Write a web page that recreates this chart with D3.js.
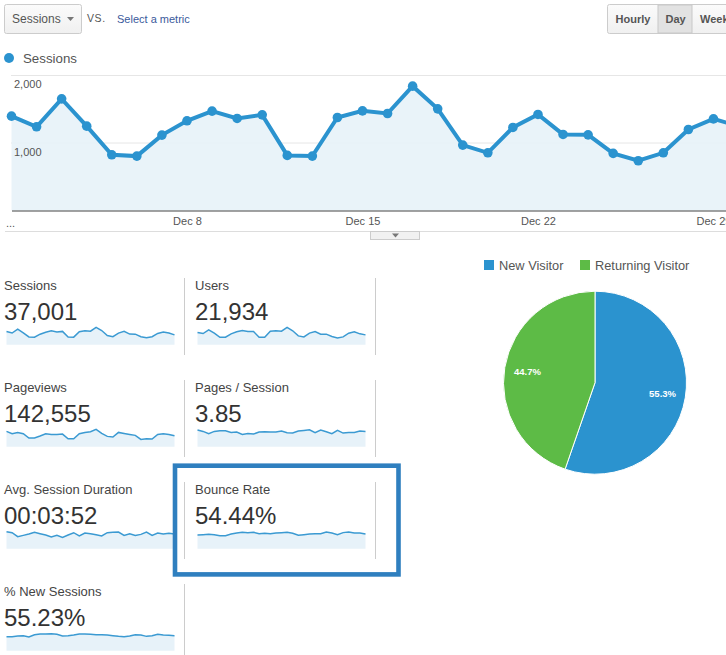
<!DOCTYPE html>
<html lang="en">
<head>
  <meta charset="UTF-8">
  <title>Audience Overview</title>
  <script src="https://d3js.org/d3.v7.min.js"></script>
  <style>
    html, body { margin: 0; padding: 0; background: #fff; overflow: hidden; }
    svg { display: block; }
    text { font-family: "Liberation Sans", Arial, sans-serif; fill: #444; }
  </style>
</head>
<body>
  <div id="chart"></div>

  <script>
    // daily sessions, Dec 1 - Dec 31 (the last two run off the right edge)
    const sesiones = [1398, 1240, 1654, 1250, 825, 806, 1117, 1329, 1472, 1364, 1417, 816, 806, 1378, 1476,
      1437, 1842, 1506, 969, 855, 1230, 1423, 1127, 1121, 846, 737, 855, 1200, 1358, 1250, 1050];

    const metricas = [
      { nombre: "Sessions", valor: "37,001", col: 0, fila: 0, tope: 1842, datos: sesiones },
      { nombre: "Users", valor: "21,934", col: 1, fila: 0, tope: 1094,
        datos: [773, 708, 944, 730, 472, 472, 687, 815, 901, 837, 837, 472, 472, 858, 880, 858, 1094, 880, 558, 494, 730, 837, 665, 665, 515, 429, 494, 730, 815, 687, 622] },
      { nombre: "Pageviews", valor: "142,555", col: 0, fila: 1, tope: 6750,
        datos: [5970, 5060, 5580, 5060, 3375, 3375, 4155, 5060, 4800, 4800, 4930, 3115, 3115, 5060, 5580, 5840, 6750, 5190, 4025, 3765, 5580, 5190, 4800, 4415, 2855, 3115, 2985, 4800, 5060, 4800, 4285] },
      { nombre: "Pages / Session", valor: "3.85", col: 1, fila: 1, tope: 4.45,
        datos: [4.28, 3.93, 3.33, 3.93, 4.10, 4.10, 3.68, 3.76, 3.16, 3.42, 3.25, 3.76, 3.85, 3.76, 3.76, 4.02, 3.59, 3.51, 4.02, 4.19, 4.36, 3.59, 4.28, 3.85, 3.33, 4.19, 3.51, 3.68, 3.68, 4.02, 3.93] },
      { nombre: "Avg. Session Duration", valor: "00:03:52", col: 0, fila: 2, tope: 274,
        datos: [269, 253, 190, 211, 232, 259, 238, 216, 185, 211, 180, 216, 253, 201, 248, 238, 222, 201, 253, 259, 264, 211, 238, 211, 227, 264, 211, 248, 232, 243, 232] },
      { nombre: "Bounce Rate", valor: "54.44%", col: 1, fila: 2, tope: 62,
        datos: [49.2, 50.4, 51.6, 50.4, 46.8, 46.8, 52.8, 56.4, 58.8, 57.6, 58.8, 54, 55.2, 54, 56.4, 57.6, 58.8, 55.2, 48, 50.4, 52.8, 54, 54, 60, 56.4, 50.4, 57.6, 60, 56.4, 56.4, 52.8] },
      { nombre: "% New Sessions", valor: "55.23%", col: 0, fila: 3, tope: 62,
        datos: [50.2, 50.2, 52.6, 53.8, 49, 57.4, 59.8, 59.8, 60.9, 58.6, 52.6, 53.8, 56.2, 59.8, 59.8, 58.6, 57.4, 57.4, 56.2, 53.8, 51.4, 50.2, 52.6, 57.4, 56.2, 51.4, 53.8, 58.6, 56.2, 55, 53.8] }
    ];

    const visitantes = [
      { tipo: "New Visitor", pct: 55.3, color: "#2b93cf" },
      { tipo: "Returning Visitor", pct: 44.7, color: "#5dbb46" }
    ];

    const azul = "#2b93cf";
    const relleno = "#e7f2f9";

    const svg = d3.select("#chart").append("svg")
      .attr("width", 726)
      .attr("height", 655);

    const degradado = svg.append("defs").append("linearGradient")
      .attr("id", "boton")
      .attr("x1", 0).attr("x2", 0).attr("y1", 0).attr("y2", 1);
    degradado.append("stop").attr("offset", "0%").attr("stop-color", "#fbfbfb");
    degradado.append("stop").attr("offset", "100%").attr("stop-color", "#f0f0f0");

    // controls along the top
    svg.append("rect")
      .attr("x", 4.5).attr("y", 4.5).attr("width", 77).attr("height", 29).attr("rx", 2)
      .attr("fill", "url(#boton)").attr("stroke", "#ccc");
    svg.append("text").attr("x", 12).attr("y", 23).attr("font-size", 12).style("fill", "#555").text("Sessions");
    svg.append("path").attr("d", "M67,17h7l-3.5,4z").attr("fill", "#777");
    svg.append("text").attr("x", 87).attr("y", 22).attr("font-size", 10.5).attr("letter-spacing", 0.6).style("fill", "#555").text("VS.");
    svg.append("text").attr("x", 117).attr("y", 23).attr("font-size", 11).style("fill", "#3a5a9c").text("Select a metric");

    svg.append("rect")
      .attr("x", 607.5).attr("y", 4.5).attr("width", 130).attr("height", 29).attr("rx", 2)
      .attr("fill", "url(#boton)").attr("stroke", "#ccc");
    svg.append("rect")
      .attr("x", 658).attr("y", 5).attr("width", 34).attr("height", 28)
      .attr("fill", "#e2e2e2").attr("stroke", "#c8c8c8");
    [["Hourly", 615.5], ["Day", 665.5], ["Week", 700]].forEach(([t, x]) => {
      svg.append("text").attr("x", x).attr("y", 23)
        .attr("font-size", 11).attr("font-weight", 700).style("fill", "#555").text(t);
    });

    svg.append("circle").attr("cx", 9).attr("cy", 58).attr("r", 5).attr("fill", azul);
    svg.append("text").attr("x", 23).attr("y", 63).attr("font-size", 13.3).style("fill", "#555").text("Sessions");

    // main line chart
    const dias = sesiones.map((v, i) => ({ fecha: new Date(2014, 11, i + 1), valor: v }));

    const x = d3.scaleTime()
      .domain([new Date(2014, 11, 1), new Date(2014, 11, 31)])
      .range([11.5, 763.6]);

    const y = d3.scaleLinear()
      .domain([0, 2000])
      .range([210.5, 75.5]);

    svg.selectAll(".rejilla")
      .data([2000, 1000])
      .enter()
      .append("line")
      .attr("class", "rejilla")
      .attr("x1", 11).attr("x2", 726)
      .attr("y1", d => y(d)).attr("y2", d => y(d))
      .attr("stroke", "#e6e6e6");

    const area = d3.area()
      .x(d => x(d.fecha))
      .y0(y(0))
      .y1(d => y(d.valor));

    const linea = d3.line()
      .x(d => x(d.fecha))
      .y(d => y(d.valor));

    svg.append("path").datum(dias).attr("d", area).attr("fill", relleno).attr("fill-opacity", 0.92);
    svg.append("path").datum(dias).attr("d", linea)
      .attr("fill", "none").attr("stroke", azul).attr("stroke-width", 4);
    svg.selectAll(".punto")
      .data(dias)
      .enter()
      .append("circle")
      .attr("class", "punto")
      .attr("cx", d => x(d.fecha))
      .attr("cy", d => y(d.valor))
      .attr("r", 4.8)
      .attr("fill", azul);

    const ejeX = svg.append("g")
      .attr("transform", `translate(0, ${y(0)})`)
      .call(d3.axisBottom(x)
        .tickValues([8, 15, 22, 29].map(d => new Date(2014, 11, d)))
        .tickFormat(d3.timeFormat("%b %-d"))
        .tickSize(0)
        .tickPadding(7));
    ejeX.select(".domain").attr("stroke", "#444").attr("stroke-width", 1);
    ejeX.selectAll("text").attr("font-size", 11).style("fill", "#555").style("font-family", "'Liberation Sans', Arial, sans-serif");

    svg.append("text").attr("x", 6).attr("y", 227).attr("font-size", 11).style("fill", "#555").text("...");

    const ejeY = svg.append("g")
      .attr("transform", "translate(14, 0)")
      .call(d3.axisRight(y).tickValues([1000, 2000]).tickSize(0).tickPadding(0));
    ejeY.select(".domain").remove();
    ejeY.selectAll("text")
      .attr("dy", 0).attr("y", 12)
      .attr("font-size", 11).style("fill", "#555").style("font-family", "'Liberation Sans', Arial, sans-serif");

    // rule and handle under the chart
    svg.append("line").attr("x1", 5).attr("x2", 726).attr("y1", 231.5).attr("y2", 231.5).attr("stroke", "#ddd");
    svg.append("rect").attr("x", 370.5).attr("y", 231.5).attr("width", 49).attr("height", 8)
      .attr("fill", "#f1f1f1").attr("stroke", "#ccc");
    svg.append("path").attr("d", "M392,233.5h7l-3.5,4z").attr("fill", "#777");

    // metric tiles
    const colX = [4, 195];
    const chispaX = d3.scaleLinear().domain([0, 30]);
    const chispaAlto = 17.3;

    metricas.forEach(m => {
      const base = 278 + m.fila * 102;
      const xi = colX[m.col];
      const g = svg.append("g").attr("transform", `translate(${xi}, ${base})`);

      g.append("text").attr("x", 0).attr("y", 12).attr("font-size", 13).style("fill", "#444").text(m.nombre);
      g.append("text").attr("x", 0).attr("y", 42).attr("font-size", 24).style("fill", "#333").text(m.valor);

      chispaX.range([2.5, 170.5]);
      const chispaY = d3.scaleLinear().domain([0, m.tope]).range([66.7, 66.7 - chispaAlto]);

      g.append("path").datum(m.datos)
        .attr("d", d3.area().x((d, i) => chispaX(i)).y0(chispaY(0)).y1(d => chispaY(d)))
        .attr("fill", relleno);
      g.append("path").datum(m.datos)
        .attr("d", d3.line().x((d, i) => chispaX(i)).y(d => chispaY(d)))
        .attr("fill", "none").attr("stroke", "#3b9ad2").attr("stroke-width", 1.5);

      g.append("line")
        .attr("x1", 180.5).attr("x2", 180.5)
        .attr("y1", 0).attr("y2", 77)
        .attr("stroke", "#ccc");
    });

    // highlight box around Bounce Rate
    svg.append("rect")
      .attr("x", 175).attr("y", 465.7).attr("width", 223.5).attr("height", 108.7)
      .attr("fill", "none").attr("stroke", "#2f7fbf").attr("stroke-width", 4.6);

    // pie
    const pie = d3.pie().sort(null).value(d => d.pct);
    const arco = d3.arc().innerRadius(0).outerRadius(91.5);
    const arcoTexto = d3.arc().innerRadius(68.5).outerRadius(68.5);

    const tarta = svg.append("g").attr("transform", "translate(595, 382.7)");
    tarta.selectAll("path")
      .data(pie(visitantes))
      .enter()
      .append("path")
      .attr("d", arco)
      .attr("fill", d => d.data.color)
      .attr("stroke", "#fff")
      .attr("stroke-width", 1);
    tarta.selectAll("text")
      .data(pie(visitantes))
      .enter()
      .append("text")
      .attr("transform", d => `translate(${arcoTexto.centroid(d)})`)
      .attr("text-anchor", "middle")
      .attr("dy", "0.35em")
      .attr("font-size", 9.5)
      .attr("font-weight", 700)
      .style("fill", "#fff")
      .text(d => d.data.pct + "%");

    const leyendaX = [484, 580];
    visitantes.forEach((d, i) => {
      svg.append("rect").attr("x", leyendaX[i]).attr("y", 260).attr("width", 10).attr("height", 10).attr("fill", d.color);
      svg.append("text").attr("x", leyendaX[i] + 15).attr("y", 270).attr("font-size", 12.8).style("fill", "#555").text(d.tipo);
    });
  </script>
</body>
</html>
